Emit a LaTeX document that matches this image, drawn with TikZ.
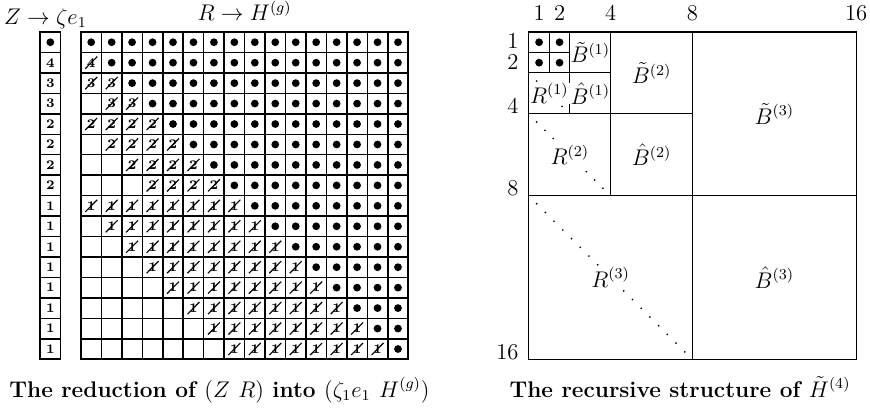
\documentclass[tikz,border=0pt]{standalone}
\usetikzlibrary{shapes.misc, calc}
\tikzset{
  cell/.style={draw, line width=0.8pt, minimum size=0.381cm, inner sep=0pt, font=\scriptsize\bfseries},
  xdigit/.style={strike out, draw, line width=0.6pt, inner sep=0.6pt, font=\scriptsize\bfseries},
  frame/.style={line width=0.6pt},
  lab/.style={font=\large},
  blocklab/.style={lab, inner sep=0.5pt},
  axis/.style={lab, inner sep=0pt},
  caption/.style={font=\large\bfseries, anchor=base},
}

\begin{document}
\begin{tikzpicture}[x=0.381cm, y=-0.381cm]
  \useasboundingbox (-3.96,-1.565) rectangle (38.58,18.58);
  \node[lab, anchor=base] (zlab) at (-1.74,-0.39) {$Z\rightarrow\zeta e_1$};
  \node[lab, anchor=base] (rlab) at (8,-0.54) {$R\rightarrow H^{(g)}$};
  % first row
  \node[cell] (Z-1) at (-1.5,0.5) {};
  \fill (Z-1) circle (0.19);
  \foreach \j in {1,...,16} {
    \node[cell] (R-1-\j) at (\j-0.5,0.5) {};
    \fill (R-1-\j) circle (0.19);
  }
  % rows 2..16: row / width of band / value
  \foreach \i/\w/\v in {2/1/4,3/2/3,4/2/3,5/4/2,6/4/2,7/4/2,8/4/2,9/8/1,10/8/1,11/8/1,12/8/1,13/8/1,14/8/1,15/8/1,16/8/1} {
    \node[cell] (Z-\i) at (-1.5,\i-0.5) {\v};
    \foreach \j in {1,...,16} {
      \node[cell] (R-\i-\j) at (\j-0.5,\i-0.5) {};
      \ifnum\j<\i
        \ifnum\numexpr\j+\w\relax<\i\else
          \node[xdigit] (x-\i-\j) at (R-\i-\j) {\v};
        \fi
      \else
        \fill (R-\i-\j) circle (0.19);
      \fi
    }
  }
  \node[caption] (capL) at (6.77,17.85) {The reduction of $(Z\ R)$ into $(\zeta_1e_1\ H^{(g)})$};

  \begin{scope}[shift={(21.9,0)}]
    \draw[frame] (0,0) rectangle (16,16);
    \foreach \n in {1,2,4,8} {
      \draw[frame] (\n,0) -- (\n,2*\n);
      \draw[frame] (0,\n) -- (2*\n,\n);
    }
    \foreach \i in {0,1}
      \foreach \j in {0,1}
        \fill (\j+0.5,\i+0.5) circle (0.19);
    \foreach \n/\m in {1/3,2/8,4/17} {
      \pgfmathsetmacro\s{(2*\n-0.76)/\m}
      \foreach \t in {0,...,\m}
        \fill (0.38+\s*\t,2*\n+0.4+\s*\t) circle (0.5pt);
    }
    \foreach \n/\k in {1/1,2/2,4/3} {
      \node[blocklab] (Bt-\k) at (3*\n,\n) {$\tilde B^{(\k)}$};
      \node[blocklab] (Bh-\k) at (3*\n,3*\n) {$\hat B^{(\k)}$};
      \node[blocklab, fill=white] (Rk-\k) at (\n,3*\n) {$R^{(\k)}$};
    }
    \foreach \x/\t in {0.5/1,1.5/2,4/4,8/8,16/16}
      \node[axis, anchor=base] (top-\t) at (\x,-0.54) {\t};
    \foreach \y/\t in {0.45/1,1.45/2}
      \node[axis, anchor=east] (left-\t) at (-0.49,\y) {\t};
    \foreach \y in {4,8,16}
      \node[axis, anchor=base east] (left-\y) at (-0.49,\y) {\y};
    \node[caption] (capR) at (7.39,17.85) {The recursive structure of $\tilde H^{(4)}$};
  \end{scope}
\end{tikzpicture}
\end{document}
